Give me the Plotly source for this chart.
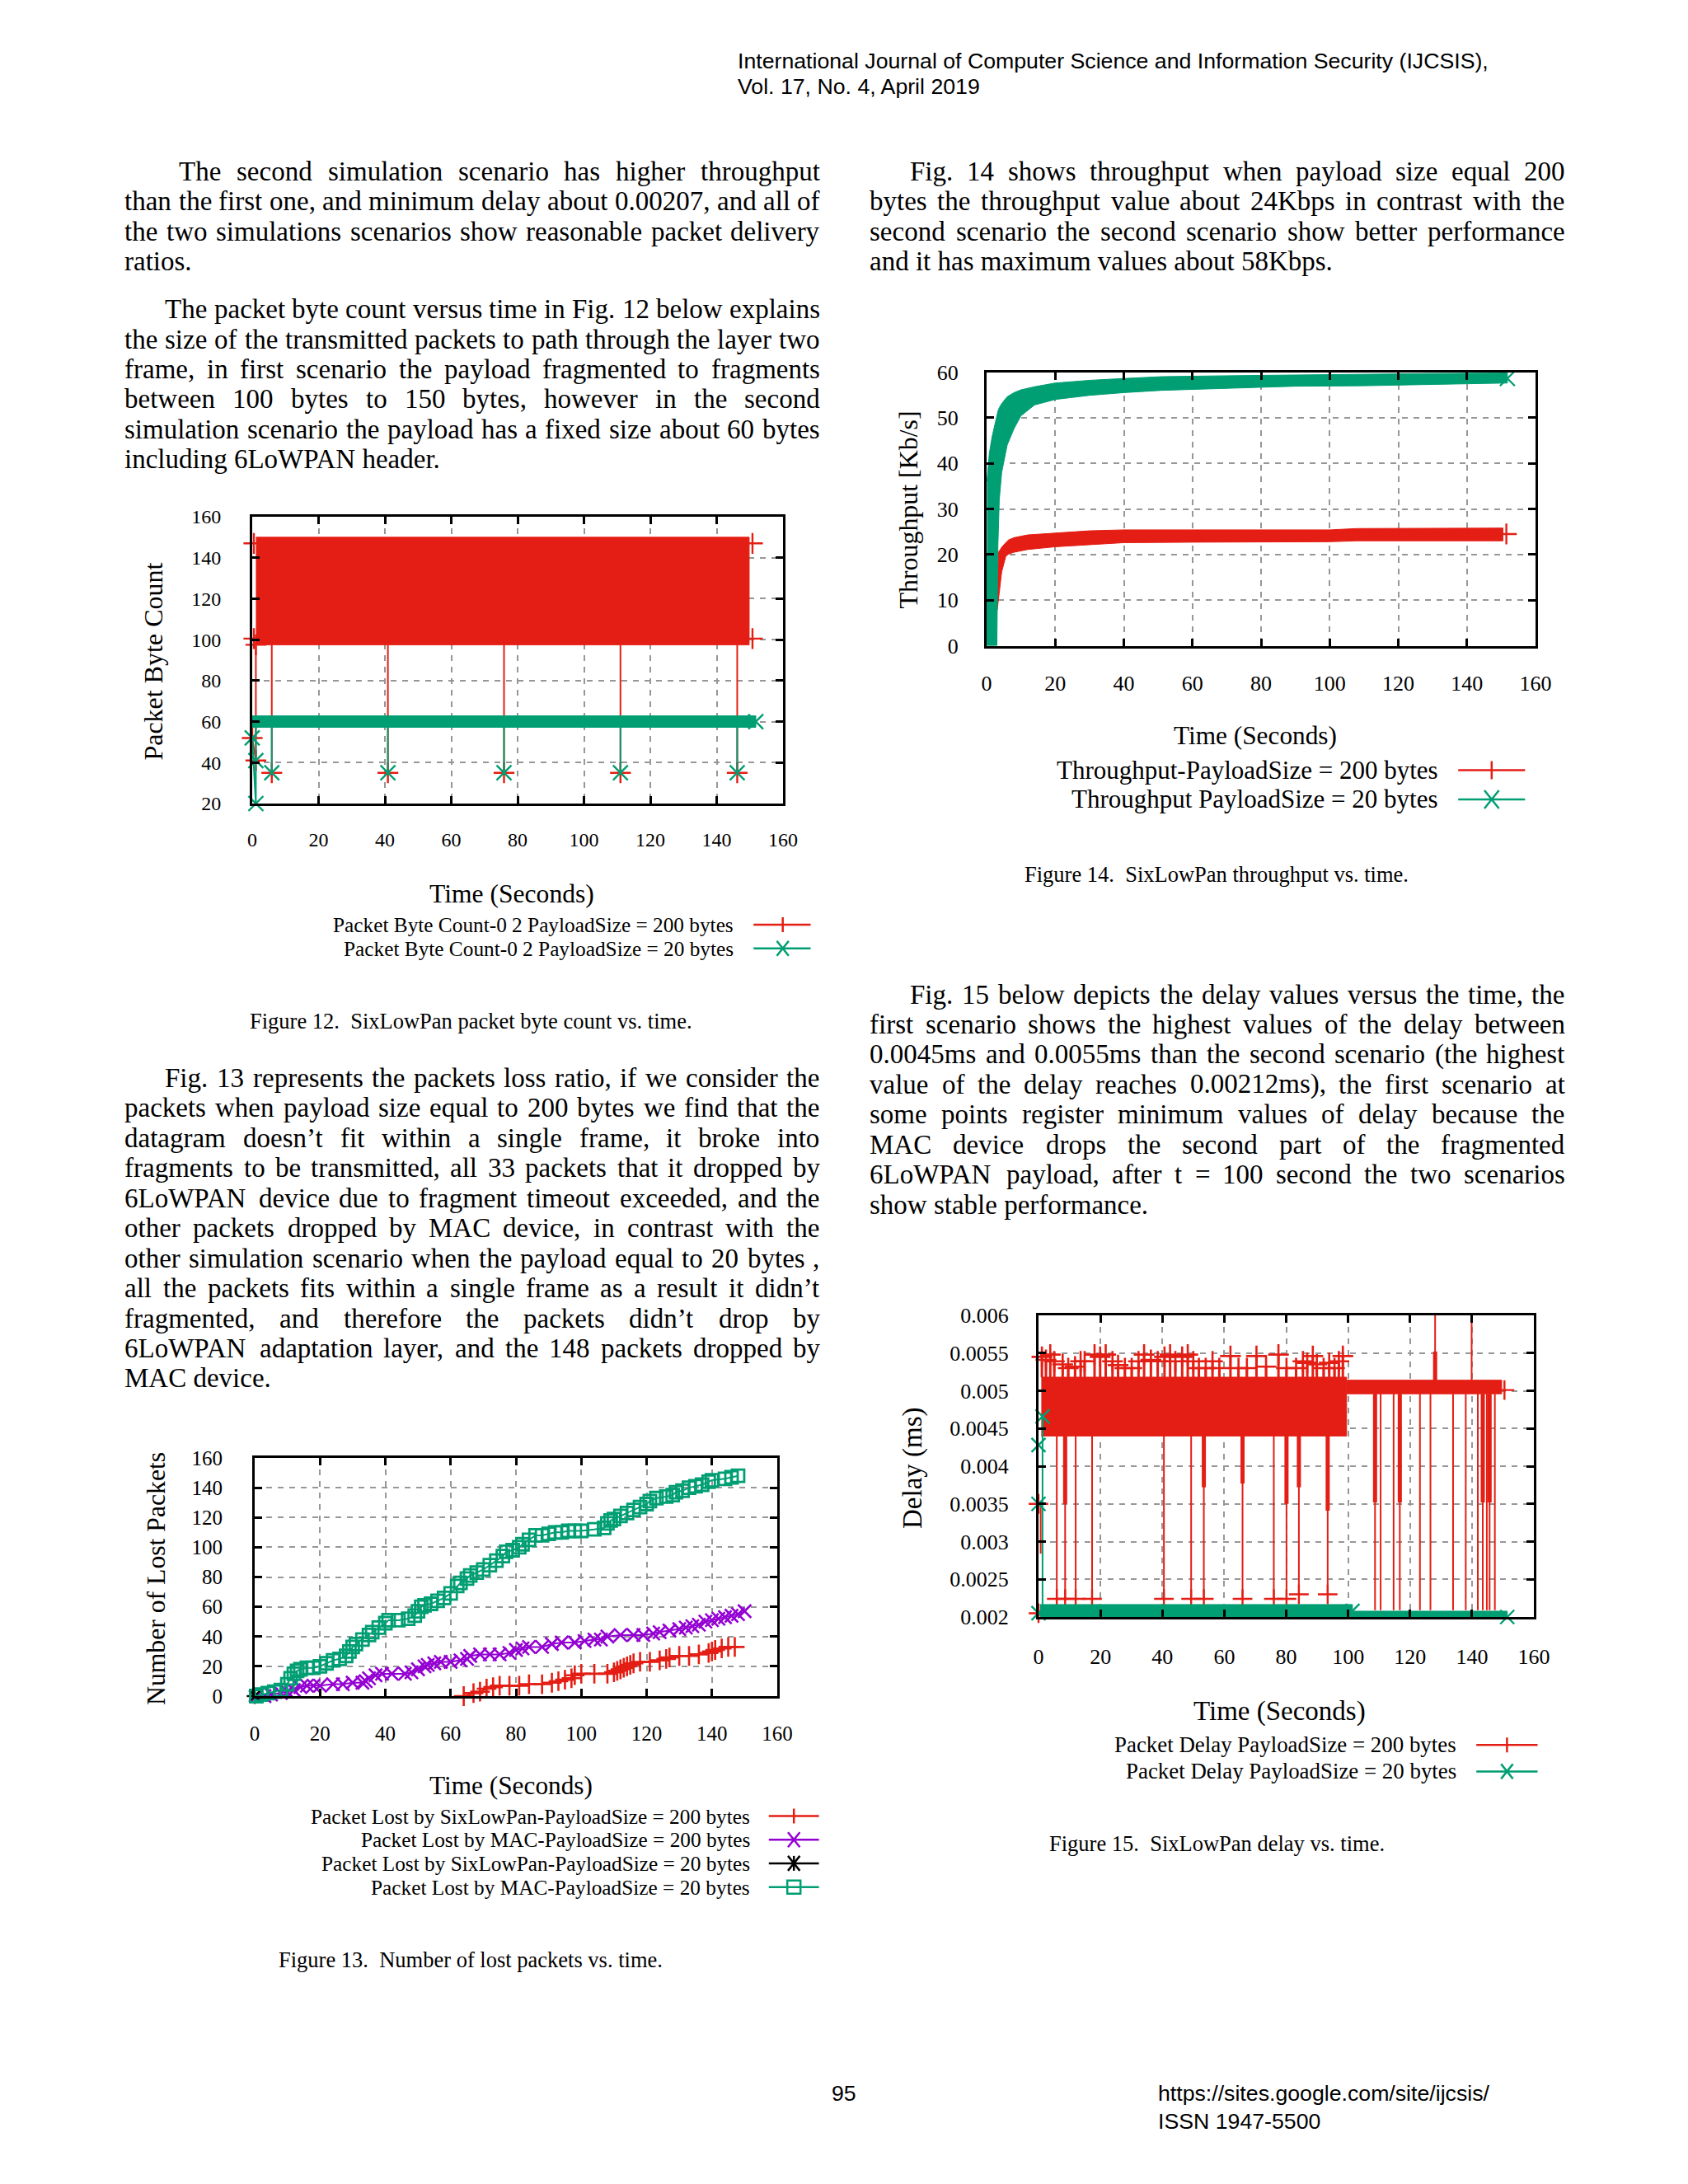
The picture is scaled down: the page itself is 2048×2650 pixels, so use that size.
import plotly.graph_objects as go

W, H = 2048, 2650
SERIF = "Liberation Serif"
SANS = "Liberation Sans"
RED = "#E41E14"
GREEN = "#009E73"
PURPLE = "#9400D3"
BLACK = "#000000"

# ---------------- Fig. 12 : packet byte count ----------------
bc_xticks = [0, 20, 40, 60, 80, 100, 120, 140, 160]
bc_yticks = [20, 40, 60, 80, 100, 120, 140, 160]
bc_red_band_t = [1.1, 149.8]
bc_red_band_hi = [150.0, 150.0]
bc_red_band_lo = [97.5, 97.5]
bc_green_band_t = [0.0, 151.8]
bc_green_band_hi = [62.8, 62.8]
bc_green_band_lo = [57.2, 57.2]
bc_drop_t = [5.9, 40.9, 75.9, 111.0, 146.2]
bc_drop_v = [35, 35, 35, 35, 35]
bc_red_start_t = [1.1, 1.1, 0.0]
bc_red_start_v = [97.5, 41.0, 52.0]
bc_red_end_t = [0.5, 0.5, 150.8, 150.8]
bc_red_end_v = [147.0, 100.5, 147.0, 100.5]
bc_green_start_t = [1.1, 1.1, 0.0]
bc_green_start_v = [57.2, 20.0, 52.0]
bc_green_mark_t = [1.1, 1.1, 0.0, 151.8]
bc_green_mark_v = [20.0, 41.0, 52.0, 60.0]

# ---------------- Fig. 14 : throughput ----------------
thr_yticks = [0, 10, 20, 30, 40, 50, 60]
thr_red_t = [3.1, 3.5, 4.0, 4.4, 5.6, 6.4, 8.0, 10.4, 12.0, 20.0, 30.0, 40.0, 60.0, 80.0, 100.0, 108.0, 130.0, 150.5]
thr_red_hi = [11.4, 20.6, 21.1, 21.6, 22.6, 23.2, 23.7, 24.1, 24.3, 24.7, 25.2, 25.4, 25.4, 25.4, 25.4, 25.7, 25.8, 25.8]
thr_red_lo = [7.8, 9.5, 13.5, 16.2, 19.6, 20.1, 20.5, 20.9, 21.1, 21.7, 22.2, 22.6, 22.7, 22.8, 22.8, 23.0, 23.0, 23.0]
thr_red_end_t = [151.5]
thr_red_end_v = [24.5]
thr_green_t = [0.1, 0.8, 1.6, 2.8, 3.0, 3.3, 3.7, 4.4, 6.0, 8.0, 10.0, 14.0, 20.0, 30.0, 40.0, 51.0, 70.0, 90.0, 110.0, 130.0, 151.8]
thr_green_hi = [36.0, 42.2, 45.8, 50.0, 50.6, 51.4, 52.2, 53.1, 54.6, 55.5, 56.1, 56.8, 57.6, 58.2, 58.6, 59.0, 59.2, 59.4, 59.5, 59.7, 59.8]
thr_green_lo = [0.0, 0.0, 0.0, 0.0, 0.0, 22.0, 32.0, 38.0, 44.0, 47.6, 50.4, 52.8, 54.0, 54.9, 55.5, 56.0, 56.4, 56.9, 57.0, 57.3, 57.6]
thr_green_start_t = [0.0, 0.0]
thr_green_start_v = [0.0, 19.9]
thr_green_end_t = [151.8]
thr_green_end_v = [58.6]

# ---------------- Fig. 13 : lost packets ----------------
lp_yticks = [0, 20, 40, 60, 80, 100, 120, 140, 160]
lp_red_t = [64, 67, 69, 71, 73, 75, 78, 81, 84, 88, 91, 93, 95, 97, 98, 100, 104, 108, 110, 111, 112, 113, 114, 115, 116,
            118, 121, 124, 126, 127, 130, 133, 136, 139, 140, 141, 143, 145, 147]
lp_red_n = [0, 2, 3, 5, 6, 7, 7, 7, 8, 8, 9, 10, 11, 12, 14, 15, 15, 15, 16, 17, 18, 19, 20, 21, 22,
            23, 23, 24, 25, 26, 27, 27, 28, 29, 30, 31, 32, 33, 33]
lp_pur_t = [0.5, 3, 5, 8, 10, 12, 14, 16, 18, 20, 24, 27, 30, 33, 34, 35, 37, 39, 42, 46, 48, 50, 52, 53, 55, 57, 60,
            63, 65, 66, 69, 72, 75, 78, 80, 82, 84, 88, 91, 94, 98, 101, 104, 106, 108, 112, 116, 119, 122, 124, 127,
            130, 132, 134, 136, 138, 140, 142, 144, 146, 148, 150]
lp_pur_n = [0, 0, 1, 2, 3, 4, 6, 7, 7, 7, 8, 8, 9, 9, 10, 12, 14, 15, 15, 15, 16, 18, 20, 21, 22, 23, 23,
            24, 25, 27, 28, 28, 28, 29, 31, 32, 33, 33, 35, 36, 36, 37, 38, 38, 40, 41, 41, 41, 42, 43, 44,
            45, 46, 47, 48, 50, 51, 52, 53, 54, 55, 57]
lp_blk_t = [0.0]
lp_blk_n = [0]
lp_grn_t = [0.5, 2, 4, 6, 8, 10, 11, 12, 13, 14, 16, 18, 20, 22, 24, 26, 28, 29, 30, 31, 33, 35, 36, 38, 40, 41, 44,
            47, 49, 50, 51, 52, 54, 56, 58, 60, 62, 63, 65, 66, 68, 70, 72, 74, 76, 77, 79, 81, 82, 84, 86, 88, 90,
            92, 94, 96, 98, 100, 104, 107, 108, 109, 110, 112, 114, 116, 118, 120, 121, 123, 126, 128, 129, 131,
            133, 135, 137, 139, 140, 144, 146, 148]
lp_grn_n = [0, 1, 2, 3, 4, 8, 12, 15, 17, 18, 19, 19, 20, 22, 24, 25, 27, 30, 33, 35, 38, 41, 43, 46, 49, 51, 51,
            52, 54, 57, 60, 61, 62, 64, 66, 69, 74, 76, 79, 81, 83, 85, 88, 91, 94, 97, 98, 100, 102, 105, 108, 108,
            109, 110, 110, 111, 111, 111, 112, 113, 116, 118, 119, 121, 123, 125, 127, 129, 131, 133, 134, 135,
            137, 138, 140, 141, 142, 144, 145, 146, 147, 148]

# ---------------- Fig. 15 : delay ----------------
dl_yticks = [0.002, 0.0025, 0.003, 0.0035, 0.004, 0.0045, 0.005, 0.0055, 0.006]
dl_yticktext = ["0.002", "0.0025", "0.003", "0.0035", "0.004", "0.0045", "0.005", "0.0055", "0.006"]
dl_red_band1_t = [0.9, 99.5]
dl_red_band1_hi = [0.00518, 0.00518]
dl_red_band1_lo = [0.0044, 0.0044]
dl_red_band2_t = [99.5, 149.6]
dl_red_band2_hi = [0.00514, 0.00514]
dl_red_band2_lo = [0.00496, 0.00496]
dl_tuft_t = [1.1, 2.4, 3.8, 5.1, 7.8, 9.6, 11.8, 13.6, 14.9, 18.1, 19.9, 21.7, 23.9, 25.7, 27.9, 30.1, 32.3, 34.1,
             36.3, 38.5, 40.7, 42.5, 44.2, 46.4, 48.2, 50.0, 51.8, 54.0, 56.2, 58.4, 62.0, 64.6, 67.3, 70.4, 73.5,
             77.5, 80.1, 83.2, 85.4, 86.8, 88.6, 89.9, 92.1, 93.9, 95.6, 97.0, 98.3]
dl_tuft_v = [0.00545, 0.00541, 0.00548, 0.00539, 0.00535, 0.0053, 0.00532, 0.00539, 0.00539, 0.00548,
             0.00545, 0.00548, 0.00539, 0.00534, 0.0053, 0.0053, 0.00539, 0.00548, 0.00541, 0.00539,
             0.00545, 0.00548, 0.00539, 0.00545, 0.00548, 0.00539, 0.0053, 0.0053, 0.00539, 0.0053,
             0.00546, 0.0053, 0.0053, 0.00546, 0.00532, 0.00548, 0.0053,
             0.0053, 0.00539, 0.00537, 0.00546, 0.00535, 0.0053, 0.00537, 0.0053, 0.00539, 0.00546]
dl_drop1_t = [5.9, 8.6, 12.0, 17.3, 40.5, 49.3, 53.4, 65.9, 76.0, 80.1, 84.1, 93.4]
dl_drop1_v = [0.00224, 0.00224, 0.00224, 0.00224, 0.00224, 0.00224, 0.00224, 0.00224, 0.00224, 0.00224, 0.0023, 0.0023]
dl_part1_t = [8.6, 53.4, 65.9, 80.1, 84.1, 93.4]
dl_part1_v = [0.0035, 0.00372, 0.00377, 0.0035, 0.00372, 0.00341]
dl_drop2_t = [108.7, 110.5, 114.7, 116.7, 123.2, 126.6, 133.9, 138.0, 141.9, 143.5, 144.8, 145.7, 147.4]
dl_drop2_v = [0.00209, 0.00209, 0.00209, 0.00209, 0.00209, 0.00209, 0.00209, 0.00209, 0.00209, 0.00209, 0.00209, 0.00209, 0.00209]
dl_part2_t = [108.7, 116.7, 143.5, 145.7]
dl_part2_v = [0.00352, 0.00352, 0.00352, 0.00352]
dl_spike_t = [128.1, 139.9]
dl_spike_v = [0.0061, 0.0061]
dl_spike_thick_t = [128.1]
dl_spike_thick_v = [0.00552]
dl_red_start_t = [0.7, 0.7]
dl_red_start_v = [0.0035, 0.00284]
dl_red_mark_t = [0.0, 0.0, 150.5]
dl_red_mark_v = [0.0035, 0.00205, 0.00501]
dl_green_band1_t = [0.5, 101.4]
dl_green_band1_hi = [0.002165, 0.002165]
dl_green_band1_lo = [0.00199, 0.00199]
dl_green_band2_t = [97.4, 151.4]
dl_green_band2_hi = [0.002077, 0.002077]
dl_green_band2_lo = [0.0019, 0.0019]
dl_green_start_t = [1.3, 1.3]
dl_green_start_v = [0.002, 0.00466]
dl_green_mark_t = [1.3, 0.0, 0.0, 0.0, 101.4, 151.4]
dl_green_mark_v = [0.00466, 0.00428, 0.0035, 0.00205, 0.00208, 0.00200]

xticks160 = [0, 20, 40, 60, 80, 100, 120, 140, 160]

# ---------------- page text ----------------
header_lines = ["International Journal of Computer Science and Information Security (IJCSIS),",
                "Vol. 17, No. 4, April 2019"]
left_par1 = ["The second simulation scenario has higher throughput",
             "than the first one, and minimum delay about 0.00207, and all of",
             "the two simulations scenarios show reasonable packet delivery",
             "ratios."]
left_par2 = ["The packet byte count versus time in Fig. 12 below explains",
             "the size of the transmitted packets to path through the layer two",
             "frame, in first scenario the payload fragmented to fragments",
             "between 100 bytes to 150 bytes, however in the second",
             "simulation scenario the payload has a fixed size about 60 bytes",
             "including 6LoWPAN header."]
left_par3 = ["Fig. 13 represents the packets loss ratio, if we consider the",
             "packets when payload size equal to 200 bytes we find that the",
             "datagram doesn\u2019t fit within a single frame, it broke into",
             "fragments to be transmitted, all 33 packets that it dropped by",
             "6LoWPAN device due to fragment timeout exceeded, and the",
             "other packets dropped by MAC device, in contrast with the",
             "other simulation scenario when the payload equal to 20 bytes ,",
             "all the packets fits within a single frame as a result it didn\u2019t",
             "fragmented, and therefore the packets didn\u2019t drop by",
             "6LoWPAN adaptation layer, and the 148 packets dropped by",
             "MAC device."]
right_par1 = ["Fig. 14 shows throughput when payload size equal 200",
              "bytes the throughput value about 24Kbps in contrast with the",
              "second scenario the second scenario show better performance",
              "and it has maximum values about 58Kbps."]
right_par2 = ["Fig. 15 below depicts the delay values versus the time, the",
              "first scenario shows the highest values of the delay between",
              "0.0045ms and 0.0055ms than the second scenario (the highest",
              "value of the delay reaches 0.00212ms), the first scenario at",
              "some points register minimum values of delay because the",
              "MAC device drops the second part of the fragmented",
              "6LoWPAN payload, after t = 100 second the two scenarios",
              "show stable performance."]
captions = ["Figure 12.\u00a0 SixLowPan packet byte count vs. time.",
            "Figure 13.\u00a0 Number of lost packets vs. time.",
            "Figure 14.\u00a0 SixLowPan throughput vs. time.",
            "Figure 15.\u00a0 SixLowPan delay vs. time."]
legend12 = ["Packet Byte Count-0 2 PayloadSize = 200 bytes", "Packet Byte Count-0 2 PayloadSize = 20 bytes"]
legend14 = ["Throughput-PayloadSize = 200 bytes", "Throughput PayloadSize = 20 bytes"]
legend13 = ["Packet Lost by SixLowPan-PayloadSize = 200 bytes", "Packet Lost by MAC-PayloadSize = 200 bytes",
            "Packet Lost by SixLowPan-PayloadSize = 20 bytes", "Packet Lost by MAC-PayloadSize = 20 bytes"]
legend15 = ["Packet Delay PayloadSize = 200 bytes", "Packet Delay PayloadSize = 20 bytes"]

# Times-Roman advance widths (1/1000 em) for justification
TW = {' ': 250, '!': 333, '(': 333, ')': 333, ',': 250, '-': 333, '.': 250, '/': 278, ':': 278, ';': 278,
      '=': 564, '?': 444, '\u2019': 333, "'": 180,
      'A': 722, 'B': 667, 'C': 667, 'D': 722, 'E': 611, 'F': 556, 'G': 722, 'H': 722, 'I': 333, 'J': 389,
      'K': 722, 'L': 611, 'M': 889, 'N': 722, 'O': 722, 'P': 556, 'Q': 722, 'R': 667, 'S': 556, 'T': 611,
      'U': 722, 'V': 722, 'W': 944, 'X': 722, 'Y': 722, 'Z': 611,
      'a': 444, 'b': 500, 'c': 444, 'd': 500, 'e': 444, 'f': 333, 'g': 500, 'h': 500, 'i': 278, 'j': 278,
      'k': 500, 'l': 278, 'm': 778, 'n': 500, 'o': 500, 'p': 500, 'q': 500, 'r': 333, 's': 389, 't': 278,
      'u': 500, 'v': 500, 'w': 722, 'x': 500, 'y': 500, 'z': 444}
for _d in "0123456789":
    TW[_d] = 500


def tw(s, fs):
    return sum(TW.get(c, 500) for c in s) * fs / 1000.0


annotations = []
shapes = []


def text(s, x, y, size, family=SERIF, xanchor="left", angle=0):
    annotations.append(dict(text=s, x=x / W, y=1 - y / H, xref="paper", yref="paper", showarrow=False,
                            xanchor=xanchor, yanchor="middle", textangle=angle, borderpad=0,
                            font=dict(family=family, size=size, color="black")))


def paragraph(lines, left, right, first_x, y0, fs=33, lh=36.45):
    for i, line in enumerate(lines):
        y = y0 + i * lh
        xs = first_x if i == 0 else left
        words = line.split(" ")
        if i < len(lines) - 1 and len(words) > 1:
            total = sum(tw(w, fs) for w in words)
            gap = (right - xs - total) / (len(words) - 1)
            x = xs
            for w in words:
                text(w, x, y, fs)
                x += tw(w, fs) + gap
        else:
            text(line, xs, y, fs)


def line_shape(x0, y0, x1, y1, color, width=2.5):
    shapes.append(dict(type="line", xref="paper", yref="paper", x0=x0 / W, y0=1 - y0 / H, x1=x1 / W,
                       y1=1 - y1 / H, line=dict(color=color, width=width)))


def legend_key(xl, xr, xm, y, color, sym, arm=9):
    line_shape(xl, y, xr, y, color)
    if sym in ("+", "*"):
        line_shape(xm, y - arm, xm, y + arm, color)
    if sym in ("x", "*"):
        line_shape(xm - arm * 0.8, y - arm, xm + arm * 0.8, y + arm, color)
        line_shape(xm - arm * 0.8, y + arm, xm + arm * 0.8, y - arm, color)
    if sym == "s":
        shapes.append(dict(type="rect", xref="paper", yref="paper", x0=(xm - 8) / W, x1=(xm + 8) / W,
                           y0=1 - (y + 8) / H, y1=1 - (y - 8) / H, line=dict(color=color, width=2.5)))


# ---------------- page text placement ----------------
text(header_lines[0], 894, 74.4, 26.7, SANS)
text(header_lines[1], 894, 104.8, 26.7, SANS)
paragraph(left_par1, 150.4, 993.6, 216.3, 207.8)
paragraph(left_par2, 150.4, 993.6, 199.4, 375.1)
paragraph(left_par3, 150.4, 993.6, 199.4, 1307.9)
paragraph(right_par1, 1054.4, 1897.7, 1103.4, 207.8)
paragraph(right_par2, 1054.4, 1897.7, 1103.4, 1206.5)
text(captions[0], 571, 1238.6, 26.5, xanchor="center")
text(captions[1], 571, 2377.5, 26.5, xanchor="center")
text(captions[2], 1476, 1061.2, 26.5, xanchor="center")
text(captions[3], 1476, 2237.3, 26.5, xanchor="center")
text("95", 1024, 2539.8, 26.7, SANS, xanchor="center")
text("https://sites.google.com/site/ijcsis/", 1404, 2539.8, 26.7, SANS)
text("ISSN 1947-5500", 1404, 2573.5, 26.7, SANS)

# chart titles / legends
text("Packet Byte Count", 186, 802.6, 32, angle=-90, xanchor="center")
text("Time (Seconds)", 621, 1084.9, 31.6, xanchor="center")
for i, (lab, col, sym) in enumerate(zip(legend12, [RED, GREEN], ["+", "x"])):
    yy = [1122.0, 1150.8][i]
    text(lab, 890.5, yy, 25.3, xanchor="right")
    legend_key(914.2, 983.5, 949.7, yy, col, sym)

text("Throughput [Kb/s]", 1102, 618.5, 31.9, angle=-90, xanchor="center")
text("Time (Seconds)", 1522.5, 892.2, 31.3, xanchor="center")
for i, (lab, col, sym) in enumerate(zip(legend14, [RED, GREEN], ["+", "x"])):
    yy = [934.5, 970.0][i]
    text(lab, 1745.6, yy, 31.0, xanchor="right")
    legend_key(1769.2, 1850.3, 1809.8, yy, col, sym, arm=11)

text("Number of Lost Packets", 189, 1916, 31.7, angle=-90, xanchor="center")
text("Time (Seconds)", 620.2, 2166.3, 31.3, xanchor="center")
for i, (lab, col, sym) in enumerate(zip(legend13, [RED, PURPLE, BLACK, GREEN], ["+", "x", "*", "s"])):
    yy = [2203.5, 2232.2, 2260.9, 2289.7][i]
    text(lab, 910.8, yy, 25.3, xanchor="right")
    legend_key(932.8, 993.6, 963.2, yy, col, sym)

text("Delay (ms)", 1107, 1781, 33, angle=-90, xanchor="center")
text("Time (Seconds)", 1552, 2076.8, 33, xanchor="center")
for i, (lab, col, sym) in enumerate(zip(legend15, [RED, GREEN], ["+", "x"])):
    yy = [2117.3, 2149.4][i]
    text(lab, 1767.5, yy, 26.9, xanchor="right")
    legend_key(1791.2, 1865.5, 1828.4, yy, col, sym)

# ---------------- traces ----------------
fig = go.Figure()


def band(t, hi, lo, color, xa, ya):
    fig.add_trace(go.Scatter(x=list(t) + list(t)[::-1], y=list(hi) + list(lo)[::-1], fill="toself",
                             fillcolor=color, mode="lines", line=dict(color=color, width=1),
                             xaxis=xa, yaxis=ya, hoverinfo="skip", showlegend=False))


def segs(ts, froms, tos, color, width, xa, ya):
    xs, ys = [], []
    for t, a, b in zip(ts, froms, tos):
        xs += [t, t, None]
        ys += [a, b, None]
    fig.add_trace(go.Scatter(x=xs, y=ys, mode="lines", line=dict(color=color, width=width),
                             xaxis=xa, yaxis=ya, hoverinfo="skip", showlegend=False, connectgaps=False))


def marks(ts, vs, color, symbol, xa, ya, size=18, mode="markers", lw=2.4):
    fig.add_trace(go.Scatter(x=ts, y=vs, mode=mode, cliponaxis=False,
                             line=dict(color=color, width=2),
                             marker=dict(symbol=symbol, size=size, color=color,
                                         line=dict(color=color, width=lw)),
                             xaxis=xa, yaxis=ya, hoverinfo="skip", showlegend=False))


# Fig 12
band(bc_red_band_t, bc_red_band_hi, bc_red_band_lo, RED, "x", "y")
segs(bc_drop_t, [bc_red_band_lo[0]] * len(bc_drop_t), bc_drop_v, RED, 2, "x", "y")
marks(bc_red_start_t, bc_red_start_v, RED, "cross-thin", "x", "y", mode="lines+markers")
marks(bc_red_end_t, bc_red_end_v, RED, "cross-thin", "x", "y")
marks(bc_drop_t, bc_drop_v, RED, "cross-thin", "x", "y")
band(bc_green_band_t, bc_green_band_hi, bc_green_band_lo, GREEN, "x", "y")
segs(bc_drop_t, [bc_green_band_lo[0]] * len(bc_drop_t), bc_drop_v, GREEN, 2, "x", "y")
marks(bc_green_start_t, bc_green_start_v, GREEN, "x-thin", "x", "y", mode="lines")
marks(bc_green_mark_t, bc_green_mark_v, GREEN, "x-thin", "x", "y")
marks(bc_drop_t, bc_drop_v, GREEN, "x-thin", "x", "y")

# Fig 14
band(thr_red_t, thr_red_hi, thr_red_lo, RED, "x2", "y2")
marks(thr_red_end_t, thr_red_end_v, RED, "cross-thin", "x2", "y2")
marks(thr_green_start_t, thr_green_start_v, GREEN, "x-thin", "x2", "y2", mode="lines")
band(thr_green_t, thr_green_hi, thr_green_lo, GREEN, "x2", "y2")
marks(thr_green_end_t, thr_green_end_v, GREEN, "x-thin", "x2", "y2")

# Fig 13
marks(lp_red_t, lp_red_n, RED, "cross-thin", "x3", "y3", size=17, mode="lines+markers", lw=2.6)
marks(lp_pur_t, lp_pur_n, PURPLE, "x-thin", "x3", "y3", size=16, mode="lines+markers", lw=2.6)
marks(lp_blk_t, lp_blk_n, BLACK, "asterisk", "x3", "y3", size=16, mode="lines+markers")
marks(lp_grn_t, lp_grn_n, GREEN, "square-open", "x3", "y3", size=15, mode="lines+markers", lw=2.8)

# Fig 15
band(dl_red_band1_t, dl_red_band1_hi, dl_red_band1_lo, RED, "x4", "y4")
band(dl_red_band2_t, dl_red_band2_hi, dl_red_band2_lo, RED, "x4", "y4")
segs(dl_tuft_t, [dl_red_band1_hi[0]] * len(dl_tuft_t), dl_tuft_v, RED, 3, "x4", "y4")
marks(dl_tuft_t, dl_tuft_v, RED, "cross-thin", "x4", "y4", size=18, lw=2.6)
segs(dl_drop1_t, [dl_red_band1_lo[0]] * len(dl_drop1_t), dl_drop1_v, RED, 2, "x4", "y4")
segs(dl_part1_t, [dl_red_band1_lo[0]] * len(dl_part1_t), dl_part1_v, RED, 5, "x4", "y4")
marks(dl_drop1_t, dl_drop1_v, RED, "cross-thin", "x4", "y4", size=17)
segs(dl_drop2_t, [dl_red_band2_lo[0]] * len(dl_drop2_t), dl_drop2_v, RED, 2, "x4", "y4")
segs(dl_part2_t, [dl_red_band2_lo[0]] * len(dl_part2_t), dl_part2_v, RED, 5, "x4", "y4")
segs(dl_spike_t, [dl_red_band2_hi[0]] * len(dl_spike_t), dl_spike_v, RED, 2, "x4", "y4")
segs(dl_spike_thick_t, [dl_red_band2_hi[0]] * len(dl_spike_thick_t), dl_spike_thick_v, RED, 5, "x4", "y4")
marks(dl_red_start_t, dl_red_start_v, RED, "cross-thin", "x4", "y4", mode="lines")
marks(dl_red_mark_t, dl_red_mark_v, RED, "cross-thin", "x4", "y4", size=17)
band(dl_green_band1_t, dl_green_band1_hi, dl_green_band1_lo, GREEN, "x4", "y4")
band(dl_green_band2_t, dl_green_band2_hi, dl_green_band2_lo, GREEN, "x4", "y4")
marks(dl_green_start_t, dl_green_start_v, GREEN, "x-thin", "x4", "y4", mode="lines")
marks(dl_green_mark_t, dl_green_mark_v, GREEN, "x-thin", "x4", "y4", size=17)

# ---------------- axes ----------------
BOX12 = (306, 950, 627, 975)
BOX14 = (1197, 1863, 451.5, 783.5)
BOX13 = (309, 943, 1769, 2058)
BOX15 = (1260, 1861, 1596, 1962)


def axis(dom, rng, tickvals, ticktext, fs, standoff, anchor):
    return dict(domain=dom, range=rng, anchor=anchor, showline=True, linecolor="black", linewidth=3,
                mirror="allticks", ticks="inside", ticklen=9, tickwidth=2.5, tickcolor="black",
                showgrid=True, gridcolor="#979797", gridwidth=1.6, griddash="7px,7px", zeroline=False,
                tickmode="array", tickvals=tickvals, ticktext=ticktext, automargin=False,
                tickfont=dict(family=SERIF, size=fs, color="black"), ticklabelstandoff=standoff,
                fixedrange=True)


def xdom(b):
    return [b[0] / W, b[1] / W]


def ydom(b):
    return [1 - b[3] / H, 1 - b[2] / H]


def lab(v):
    return [str(x) for x in v]


fig.update_layout(
    width=W, height=H, margin=dict(l=0, r=0, t=0, b=0, pad=0, autoexpand=False), autosize=False,
    paper_bgcolor="white", plot_bgcolor="white", showlegend=False,
    xaxis=axis(xdom(BOX12), [0, 160], bc_xticks, lab(bc_xticks), 24, 20, "y"),
    yaxis=axis(ydom(BOX12), [20, 160], bc_yticks, lab(bc_yticks), 24, 30, "x"),
    xaxis2=axis(xdom(BOX14), [0, 160], xticks160, lab(xticks160), 26, 20, "y2"),
    yaxis2=axis(ydom(BOX14), [0, 60], thr_yticks, lab(thr_yticks), 26, 26, "x2"),
    xaxis3=axis(xdom(BOX13), [0, 160], xticks160, lab(xticks160), 25, 21, "y3"),
    yaxis3=axis(ydom(BOX13), [0, 160], lp_yticks, lab(lp_yticks), 25, 31, "x3"),
    xaxis4=axis(xdom(BOX15), [0, 160], xticks160, lab(xticks160), 26, 23, "y4"),
    yaxis4=axis(ydom(BOX15), [0.002, 0.006], dl_yticks, dl_yticktext, 26, 28, "x4"),
    annotations=annotations, shapes=shapes,
)

fig.write_html("out.html", config={"displayModeBar": False},
               post_script="document.body.style.margin='0px';")
